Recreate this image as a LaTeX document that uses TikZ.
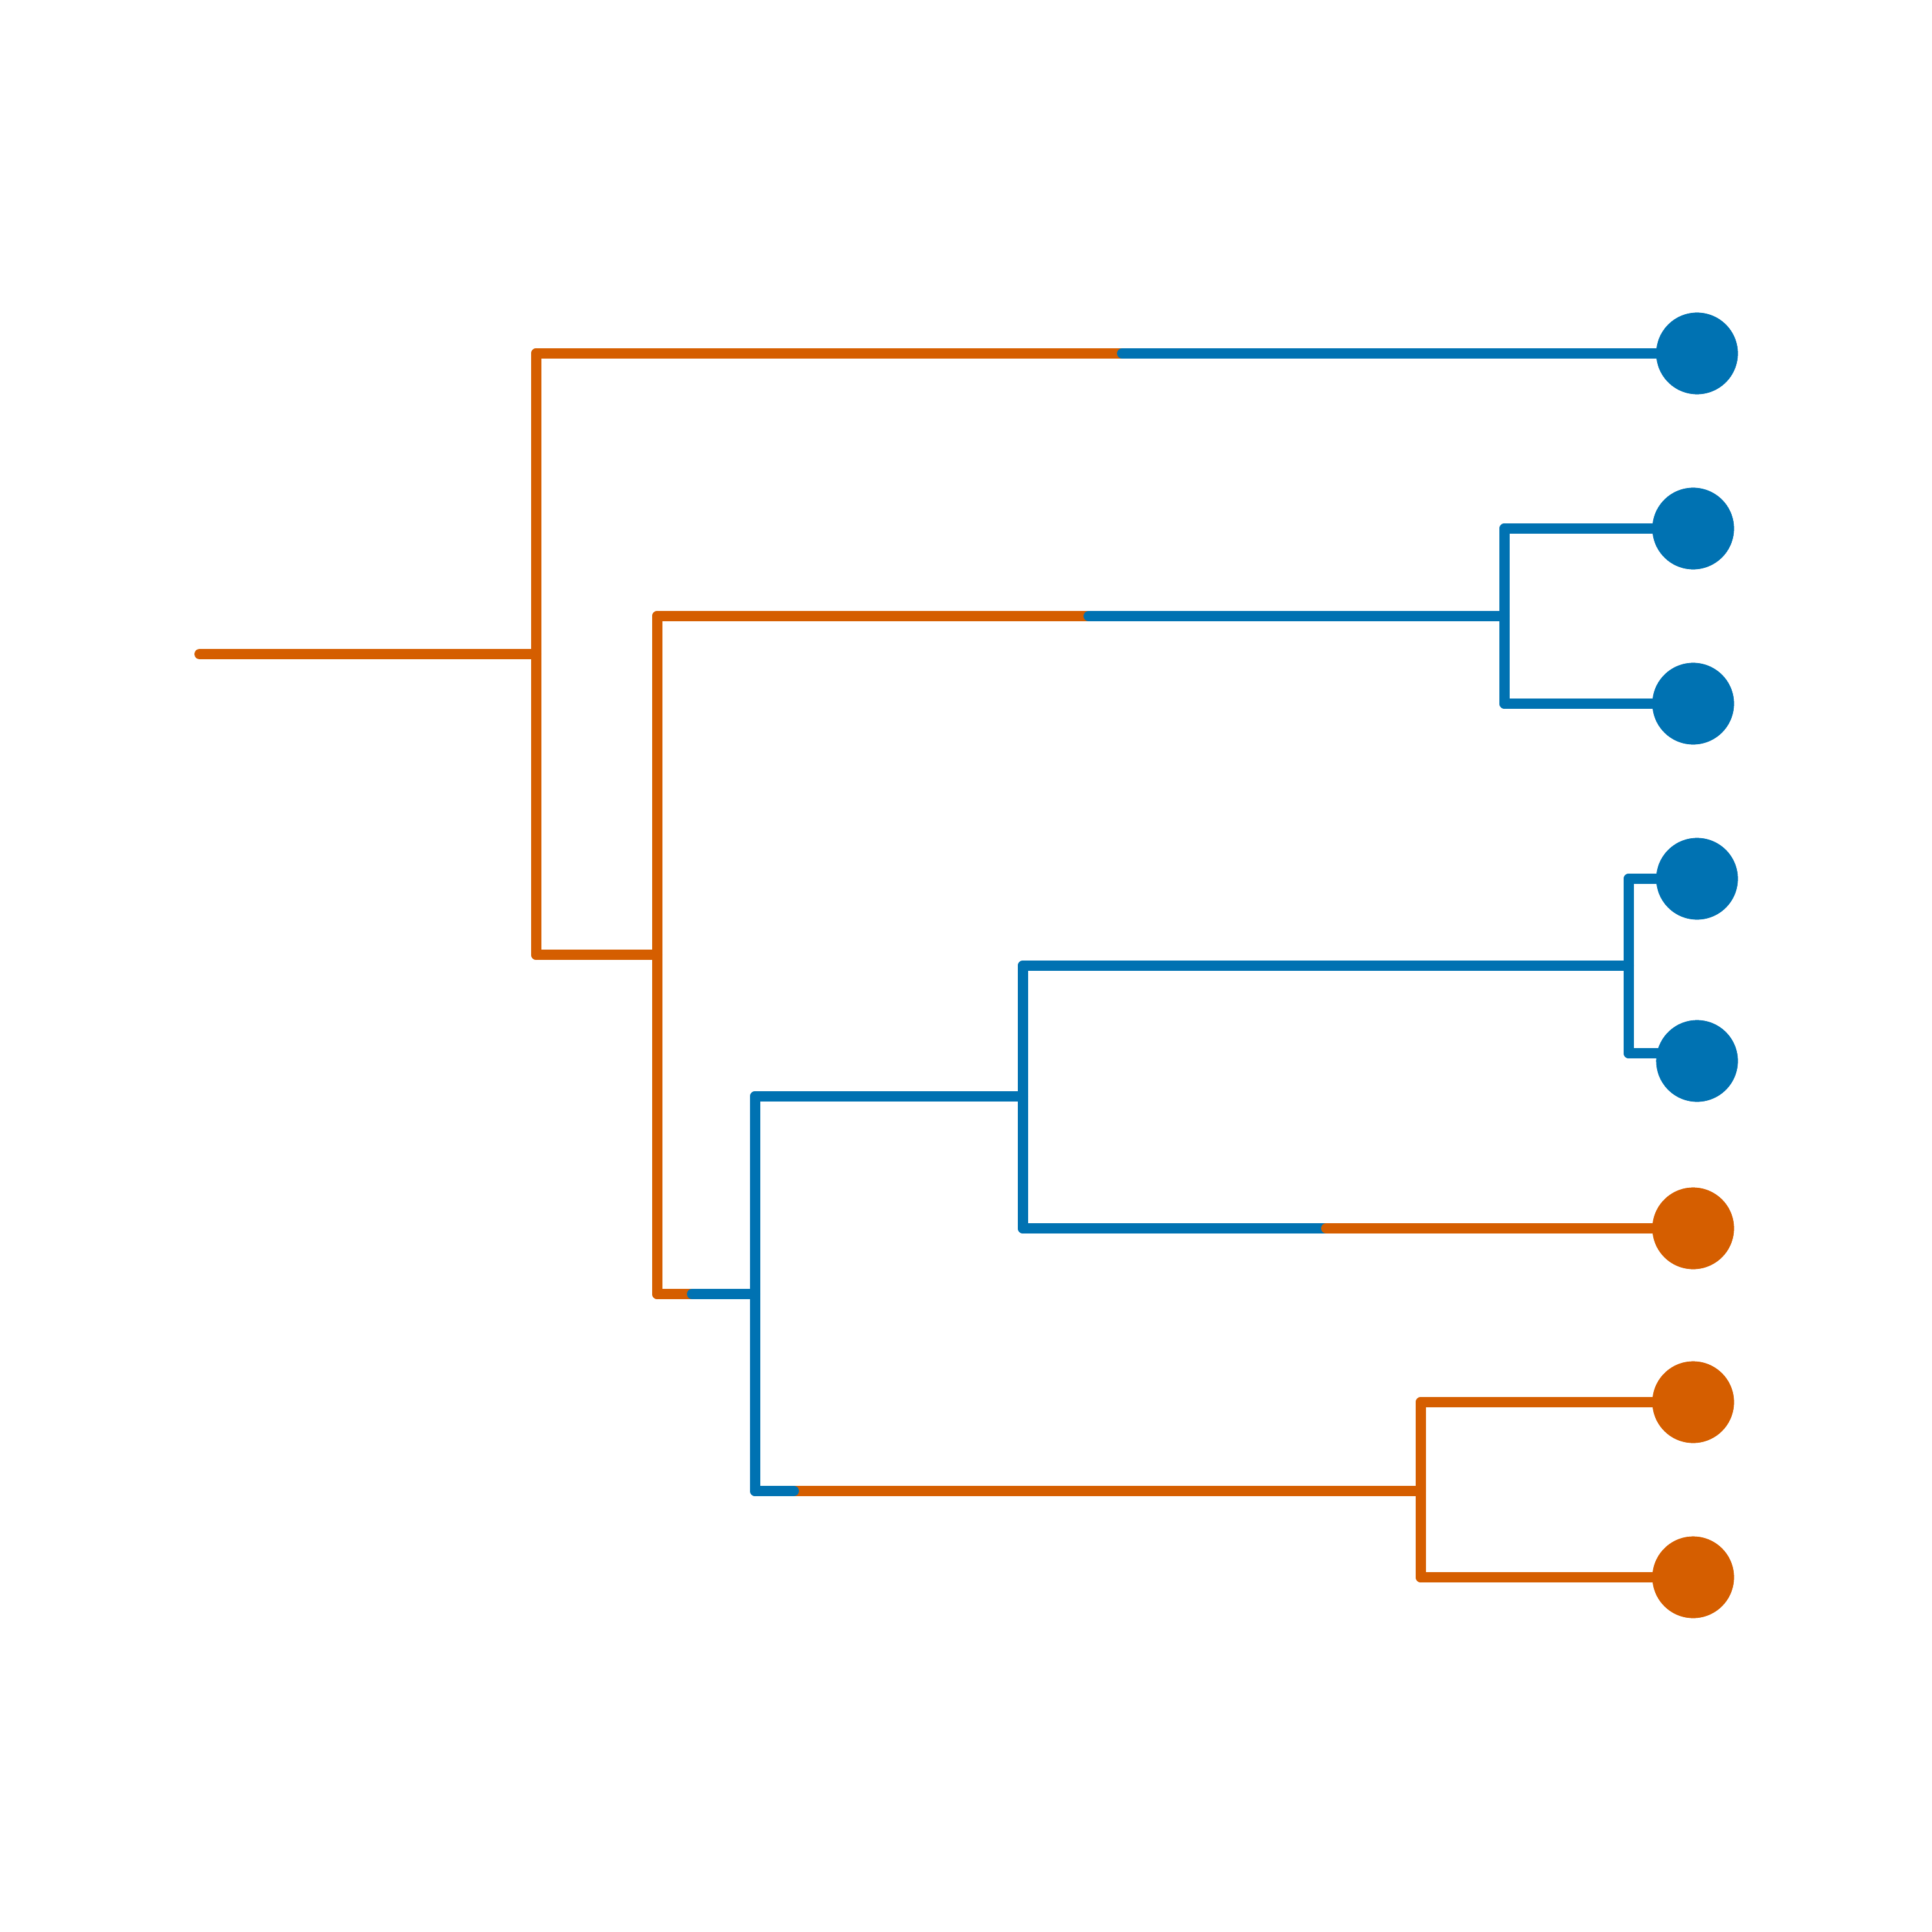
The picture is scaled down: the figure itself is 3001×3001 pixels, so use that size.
\documentclass[tikz,border=0pt]{standalone}
\definecolor{cblue}{RGB}{0,114,178}
\definecolor{corange}{RGB}{213,94,0}
\begin{document}
\begin{tikzpicture}[x=0.01cm,y=-0.01cm,
  edge/.style={line width=0.16cm,line cap=round},
  ob/.style={edge,draw=corange},
  bb/.style={edge,draw=cblue},
  tipb/.style={circle,fill=cblue,inner sep=0pt,minimum size=1.266cm},
  tipo/.style={circle,fill=corange,inner sep=0pt,minimum size=1.266cm}]
\useasboundingbox (0,0) rectangle (3001,3001);
% junction coordinates
\coordinate (r0) at (310,1016);
\coordinate (n1) at (833,1016);
\coordinate (n1t) at (833,549);
\coordinate (n1b) at (833,1483);
\coordinate (s1) at (1743,549);
\coordinate (n2m) at (1021,1483);
\coordinate (n2t) at (1021,957);
\coordinate (n2b) at (1021,2010);
\coordinate (s2) at (1691,957);
\coordinate (n3) at (2337,957);
\coordinate (n3t) at (2337,821);
\coordinate (n3b) at (2337,1093);
\coordinate (s3) at (1075,2010);
\coordinate (n4) at (1173,2010);
\coordinate (n4t) at (1173,1703);
\coordinate (n4b) at (1173,2316);
\coordinate (n5) at (1589,1703);
\coordinate (n5t) at (1589,1500);
\coordinate (n5b) at (1589,1908);
\coordinate (n6) at (2530,1500);
\coordinate (n6t) at (2530,1365);
\coordinate (n6b) at (2530,1636);
\coordinate (s4) at (2060,1908);
\coordinate (s5) at (1233,2316);
\coordinate (n7) at (2207,2316);
\coordinate (n7t) at (2207,2178);
\coordinate (n7b) at (2207,2450);
% tips
\node[tipb] (t1) at (2636,549) {};
\node[tipb] (t2) at (2630,821) {};
\node[tipb] (t3) at (2630,1093) {};
\node[tipb] (t4) at (2636,1365) {};
\node[tipb] (t5) at (2636,1648) {};
\node[tipo] (t6) at (2630,1908) {};
\node[tipo] (t7) at (2630,2178) {};
\node[tipo] (t8) at (2630,2450) {};
\coordinate (t5e) at (2636,1636);
% edges
\begin{scope}[on background layer/.style={}]
\draw[ob] (r0) -- (n1);
\draw[ob] (n1t) -- (n1b);
\draw[ob] (n1t) -- (s1);
\draw[bb] (s1) -- (t1.center);
\draw[ob] (n1b) -- (n2m);
\draw[ob] (n2t) -- (n2b);
\draw[ob] (n2t) -- (s2);
\draw[bb] (s2) -- (n3);
\draw[bb] (n3t) -- (n3b);
\draw[bb] (n3t) -- (t2.center);
\draw[bb] (n3b) -- (t3.center);
\draw[ob] (n2b) -- (s3);
\draw[bb] (s3) -- (n4);
\draw[bb] (n4t) -- (n4b);
\draw[bb] (n4t) -- (n5);
\draw[bb] (n5t) -- (n5b);
\draw[bb] (n5t) -- (n6);
\draw[bb] (n6t) -- (n6b);
\draw[bb] (n6t) -- (t4.center);
\draw[bb] (n6b) -- (t5e);
\draw[bb] (n5b) -- (s4);
\draw[ob] (s4) -- (t6.center);
\draw[ob] (s5) -- (n7);
\draw[bb] (n4b) -- (s5);
\draw[ob] (n7t) -- (n7b);
\draw[ob] (n7t) -- (t7.center);
\draw[ob] (n7b) -- (t8.center);
\end{scope}
% redraw tips on top
\fill[cblue] (t1.center) circle (0.633cm);
\fill[cblue] (t2.center) circle (0.633cm);
\fill[cblue] (t3.center) circle (0.633cm);
\fill[cblue] (t4.center) circle (0.633cm);
\fill[cblue] (t5.center) circle (0.633cm);
\fill[corange] (t6.center) circle (0.633cm);
\fill[corange] (t7.center) circle (0.633cm);
\fill[corange] (t8.center) circle (0.633cm);
\end{tikzpicture}
\end{document}
